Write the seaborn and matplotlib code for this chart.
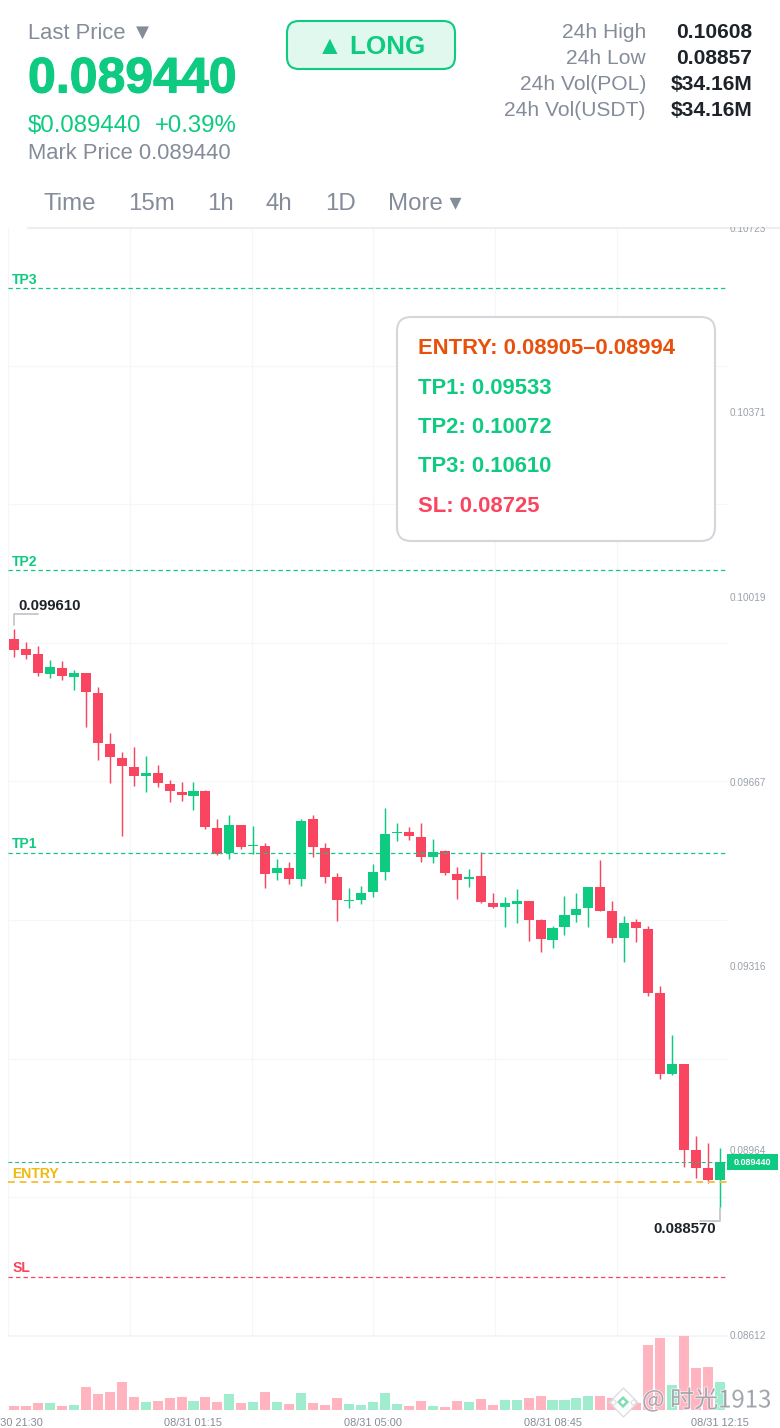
# 15m candles with trade levels, mobile screenshot style
import matplotlib
matplotlib.use("Agg")
import matplotlib.pyplot as plt
from matplotlib.patches import FancyBboxPatch, Rectangle
import matplotlib.patheffects as pe
import pandas as pd
import seaborn as sns

opens = [0.099405, 0.099220, 0.099125, 0.098744, 0.098858, 0.098692, 0.098763, 0.098381, 0.097409, 0.097148,
         0.096976, 0.096793, 0.096856, 0.096646, 0.096499, 0.096423, 0.096513, 0.095807, 0.095336, 0.095858,
         0.095464, 0.095464, 0.094943, 0.095044, 0.094835, 0.095973, 0.095426, 0.094878, 0.094421, 0.094440,
         0.094592, 0.094974, 0.095712, 0.095731, 0.095635, 0.095254, 0.095363, 0.094936, 0.094835, 0.094892,
         0.094383, 0.094295, 0.094364, 0.094415, 0.094053, 0.093671, 0.093913, 0.094142, 0.094287, 0.094688,
         0.094224, 0.093704, 0.094009, 0.093887, 0.092666, 0.091122, 0.091307, 0.089673, 0.089318, 0.089101]
closes = [0.099201, 0.099112, 0.098757, 0.098872, 0.098706, 0.098763, 0.098395, 0.097434, 0.097155, 0.096984,
          0.096799, 0.096850, 0.096665, 0.096513, 0.096442, 0.096518, 0.095826, 0.095311, 0.095864, 0.095450,
          0.095489, 0.094924, 0.095039, 0.094835, 0.095946, 0.095439, 0.094873, 0.094434, 0.094440, 0.094568,
          0.094968, 0.095698, 0.095736, 0.095655, 0.095260, 0.095344, 0.094943, 0.094821, 0.094873, 0.094396,
          0.094301, 0.094371, 0.094415, 0.094053, 0.093685, 0.093906, 0.094148, 0.094262, 0.094688, 0.094230,
          0.093709, 0.093995, 0.093906, 0.092666, 0.091122, 0.091307, 0.089673, 0.089318, 0.089101, 0.089440]
highs = [0.099610, 0.099348, 0.099278, 0.099005, 0.098986, 0.098820, 0.098763, 0.098502, 0.097619, 0.097251,
         0.097352, 0.097180, 0.097003, 0.096722, 0.096690, 0.096684, 0.096532, 0.095979, 0.096055, 0.095858,
         0.095845, 0.095515, 0.095210, 0.095153, 0.095979, 0.096055, 0.095515, 0.094943, 0.094669, 0.094701,
         0.095121, 0.096183, 0.095897, 0.095820, 0.095897, 0.095592, 0.095388, 0.095063, 0.095019, 0.095344,
         0.094568, 0.094497, 0.094644, 0.094415, 0.094066, 0.093938, 0.094516, 0.094568, 0.094688, 0.095197,
         0.094415, 0.094135, 0.094078, 0.093938, 0.092794, 0.091860, 0.091307, 0.089928, 0.089795, 0.089705]
lows = [0.099074, 0.099024, 0.098711, 0.098667, 0.098635, 0.098439, 0.097733, 0.097104, 0.096665, 0.095655,
        0.096614, 0.096494, 0.096595, 0.096309, 0.096328, 0.096150, 0.095794, 0.095292, 0.095210, 0.095412,
        0.095306, 0.094657, 0.094815, 0.094739, 0.094701, 0.095248, 0.094758, 0.094028, 0.094287, 0.094358,
        0.094491, 0.094815, 0.095559, 0.095573, 0.095159, 0.095145, 0.094917, 0.094448, 0.094688, 0.094377,
        0.094287, 0.093925, 0.093990, 0.093652, 0.093442, 0.093519, 0.093761, 0.094020, 0.093925, 0.094230,
        0.093620, 0.093252, 0.093639, 0.092609, 0.091015, 0.091103, 0.089337, 0.089133, 0.089032, 0.088570]
volumes = [4.3, 4.0, 7.0, 6.7, 4.0, 4.7, 22.7, 16.3, 18.3, 27.7,
           13.0, 8.0, 8.7, 12.0, 13.0, 9.0, 13.0, 8.0, 16.0, 7.3,
           8.0, 18.3, 8.0, 6.0, 17.0, 7.0, 5.0, 12.0, 6.0, 4.7,
           7.7, 17.0, 6.0, 4.0, 9.0, 4.0, 3.3, 8.7, 7.7, 11.3,
           5.0, 10.0, 10.0, 11.7, 14.0, 9.7, 9.7, 12.0, 14.0, 14.0,
           11.7, 10.0, 7.3, 65.0, 72.0, 25.0, 74.0, 42.0, 42.7, 28.0]

price_labels = [0.10723, 0.10371, 0.10019, 0.09667, 0.09316, 0.08964, 0.08612]
grid_prices = [0.104617, 0.101985, 0.099335, 0.096703, 0.094053, 0.091402, 0.08877]
grid_candles = [-0.5, 9.67, 19.85, 29.97, 40.2, 50.35]
time_candles = [0, 15, 30, 45, 59]
time_labels = ["08/30 21:30", "08/31 01:15", "08/31 05:00", "08/31 08:45", "08/31 12:15"]
levels = {"TP3": 0.10610, "TP2": 0.10072, "TP1": 0.09533, "ENTRY": 0.08905, "SL": 0.08725}
last_price = 0.08944

tabs = ["Time", "15m", "1h", "4h", "1D", "More ▾"]
tab_x = [44, 128, 207, 266, 325, 388]
stat_names = ["24h High", "24h Low", "24h Vol(POL)", "24h Vol(USDT)"]
stat_values = ["0.10608", "0.08857", "$34.16M", "$34.16M"]
box_lines = ["ENTRY: 0.08905–0.08994", "TP1: 0.09533", "TP2: 0.10072", "TP3: 0.10610", "SL: 0.08725"]

GREEN = "#0ecb81"
RED = "#f9455f"
GRAY = "#858c99"
DARK = "#1e2329"
ORANGE = "#f5c242"

sns.set_theme(style="white")
plt.rcParams["font.family"] = ["Liberation Sans", "DejaVu Sans"]

W, H = 780, 1428
fig = plt.figure(figsize=(W / 100, H / 100), dpi=100, facecolor="white")


def pt(px):
    return px * 0.72


def axes_px(left, top, right, bottom):
    return fig.add_axes([left / W, 1 - bottom / H, (right - left) / W, (bottom - top) / H])


df = pd.DataFrame({"open": opens, "close": closes, "high": highs, "low": lows, "volume": volumes})
df["candle"] = df.index
df["side"] = ["up" if c >= o else "down" for o, c in zip(opens, closes)]
colors = [GREEN if s == "up" else RED for s in df["side"]]

xlim = (-0.5, 59.58)

# price panel
ax = axes_px(8, 228, 727, 1336)
ax.set_xlim(xlim)
ax.set_ylim(0.08612, 0.107249)
ax.set_xticks(grid_candles)
ax.set_yticks(grid_prices)
ax.grid(True, color="#f5f6f7", lw=0.8)
ax.tick_params(length=0, labelleft=False, labelbottom=False)
sns.despine(ax=ax, left=True, right=True, top=True, bottom=False)
ax.spines["bottom"].set_color("#f1f2f4")
ax.spines["bottom"].set_linewidth(1.2)
ax.set_axisbelow(True)

ax.vlines(df["candle"], df["low"], df["high"], colors=colors, lw=1.05, zorder=2)
ax.bar(df["candle"], (df["close"] - df["open"]).abs(), bottom=df[["open", "close"]].min(axis=1),
       width=0.84, color=colors, linewidth=0, zorder=3)

level_colors = {"TP3": GREEN, "TP2": GREEN, "TP1": GREEN, "ENTRY": ORANGE, "SL": RED}
label_colors = {"TP3": GREEN, "TP2": GREEN, "TP1": GREEN, "ENTRY": "#f0b90b", "SL": RED}
for name, value in levels.items():
    lw = 1.4 if name == "ENTRY" else 0.9
    ax.axhline(value, color=level_colors[name], lw=lw, ls=(0, (3.5, 2.5)), zorder=4)
    ax.annotate(name, (0, value), xycoords=ax.get_yaxis_transform(), xytext=(3, 1.2), textcoords="offset points",
                color=label_colors[name], fontsize=pt(14), fontweight="bold", va="bottom", ha="left", zorder=5)
ax.axhline(last_price, color="#2bb58a", lw=0.8, ls=(0, (3.5, 2.5)), zorder=4)

# volume panel
ax_vol = axes_px(8, 1336, 727, 1410)
ax_vol.patch.set_alpha(0)
sns.barplot(data=df, x="candle", y="volume", hue="side", palette={"up": "#a0ecce", "down": "#ffb4c0"},
            dodge=False, native_scale=True, width=0.84, saturation=1, legend=False, ax=ax_vol, linewidth=0, zorder=2)
ax_vol.set_xlim(xlim)
ax_vol.set_ylim(0, 74)
ax_vol.set_xlabel("")
ax_vol.set_ylabel("")
ax_vol.set_xticks(time_candles)
ax_vol.set_xticklabels(time_labels, fontsize=pt(11), color=GRAY)
ax_vol.tick_params(axis="x", length=0, pad=5.5)
ax_vol.set_yticks([])
sns.despine(ax=ax_vol, left=True, right=True, top=True, bottom=True)

# overlay in pixel coordinates for the page furniture
ov = fig.add_axes([0, 0, 1, 1], facecolor="none")
ov.set_xlim(0, W)
ov.set_ylim(H, 0)
ov.axis("off")


def label(x, y, s, size, color, weight="normal", ha="left", **kw):
    # va=center sits a little high for these fonts
    return ov.text(x, y + size * 0.09, s, fontsize=pt(size), color=color, fontweight=weight, ha=ha, va="center", **kw)


label(28, 31, "Last Price ▼", 22, GRAY)
label(28, 75, "0.089440", 50, GREEN, weight="bold",
      path_effects=[pe.withStroke(linewidth=0.8, foreground=GREEN)])
label(28, 124, "$0.089440", 24, GREEN)
label(155, 124, "+0.39%", 24, GREEN)
label(28, 152, "Mark Price 0.089440", 22, GRAY)

ov.add_patch(FancyBboxPatch((287, 21), 168, 48, boxstyle="round,pad=0,rounding_size=12",
                            fc="#e1f8ef", ec=GREEN, lw=1.5))
label(371, 45, "▲ LONG", 26, GREEN, weight="bold", ha="center")

for i, (name, value) in enumerate(zip(stat_names, stat_values)):
    label(646, 31 + 26 * i, name, 21, GRAY, ha="right")
    label(752, 31 + 26 * i, value, 21, DARK, weight="bold", ha="right")

for x, tab in zip(tab_x, tabs):
    label(x, 202, tab, 24, GRAY)
ov.plot([28, 780], [227.5, 227.5], color="#eceef0", lw=1.5)

# signal box
ov.add_patch(FancyBboxPatch((397, 317), 318, 224, boxstyle="round,pad=0,rounding_size=14",
                            fc="white", ec="#d3d6db", lw=1.5, zorder=6))
box_colors = ["#e8500c", GREEN, GREEN, GREEN, RED]
for y, line, c in zip([347, 387, 426, 465, 505], box_lines, box_colors):
    label(418, y, line, 22, c, weight="bold", zorder=7)

# right price scale, the top one is cut by the toolbar line
clip = Rectangle((0, 0), 1, 1 - 227 / H, transform=fig.transFigure)
for p in price_labels:
    y = 1335 - (p - 0.08612) * 52441
    t = label(730, y, f"{p:.5f}", 10, "#9aa0ab")
    t.set_clip_on(True)
    t.set_clip_path(clip)

# high and low callouts
ov.plot([14, 14, 38], [625, 614, 614], color="#c8ccd1", lw=1.4)
label(18, 605, "0.099610", 15, DARK, weight="bold")
ov.plot([720, 720, 700], [1208, 1221, 1221], color="#c8ccd1", lw=1.4)
label(716, 1228, "0.088570", 15, DARK, weight="bold", ha="right")

# last price tag
ov.add_patch(Rectangle((727, 1154), 51, 16, fc=GREEN, ec="none", zorder=6))
label(752.5, 1162, "0.089440", 9, "white", weight="bold", ha="center", zorder=7)

# watermark
halo = [pe.withStroke(linewidth=1.2, foreground="white")]
ov.scatter([623], [1402], marker="D", s=215, fc="white", ec="#d9dbde", lw=1, alpha=0.9, zorder=8)
ov.scatter([623], [1402], marker="D", s=38, fc="#7fdcb6", ec="none", zorder=9)
ov.scatter([623], [1402], marker="D", s=7, fc="white", ec="none", zorder=10)
ov.scatter([613, 633], [1402, 1402], marker="D", s=9, fc="white", ec="#d0d2d6", lw=0.5, zorder=10)
ov.text(642, 1400, "@ 时光1913", fontsize=pt(24), color="#8d929c", alpha=0.72, va="center", ha="left",
        family=["Noto Sans CJK SC", "DejaVu Sans"], path_effects=halo, zorder=8)

fig.savefig("out.png", dpi=100)
